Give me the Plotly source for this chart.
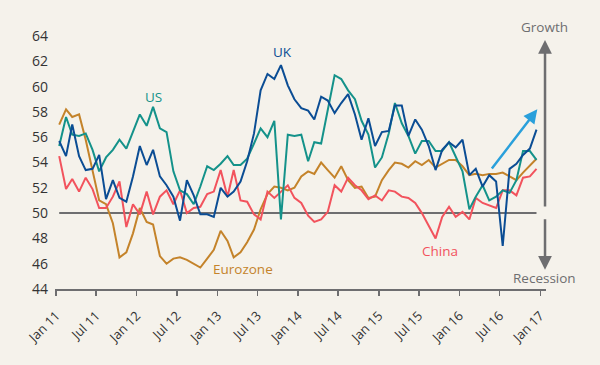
import pandas as pd
import plotly.graph_objects as go

# Monthly composite PMI readings, Jan 2011 - Dec 2016
months = pd.date_range("2011-01-01", periods=72, freq="MS")

uk = [55.7, 54.5, 57.0, 54.5, 53.4, 53.5, 54.6, 51.1, 52.6, 51.2, 50.9, 52.9,
      55.3, 53.8, 55.0, 52.9, 52.2, 51.3, 49.4, 52.6, 51.4, 49.9, 49.9, 49.7,
      52.0, 51.3, 51.7, 52.5, 54.1, 56.3, 59.7, 61.0, 60.6, 61.7, 60.1, 59.0,
      58.3, 58.1, 57.4, 59.2, 58.9, 57.9, 58.7, 59.4, 57.8, 55.8, 57.5, 55.3,
      56.4, 56.5, 58.5, 58.5, 56.1, 57.4, 56.6, 55.3, 53.4, 55.0, 55.6, 55.2,
      55.8, 53.0, 53.5, 52.1, 53.0, 52.5, 47.4, 53.5, 53.9, 54.6, 55.1, 56.6]

us = [55.3, 57.6, 56.2, 56.1, 56.3, 55.0, 53.3, 54.4, 55.0, 55.8, 55.1, 56.4,
      57.8, 56.9, 58.4, 56.7, 56.4, 53.3, 51.8, 51.5, 50.7, 52.1, 53.7, 53.4,
      53.9, 54.5, 53.8, 53.8, 54.3, 55.5, 56.7, 56.0, 57.3, 49.5, 56.2, 56.1,
      56.2, 54.1, 55.6, 55.5, 58.2, 60.9, 60.6, 59.7, 59.0, 57.3, 56.2, 53.6,
      54.4, 56.3, 58.7, 57.1, 56.1, 54.7, 55.7, 55.7, 54.9, 54.9, 55.6, 54.4,
      53.3, 50.3, 51.3, 52.2, 51.0, 51.3, 51.8, 51.6, 52.6, 54.9, 54.9, 54.2]

eurozone = [57.0, 58.2, 57.6, 57.8, 55.8, 53.4, 51.0, 50.7, 49.2, 46.5, 46.9, 48.4,
            50.4, 49.3, 49.1, 46.6, 46.0, 46.4, 46.5, 46.3, 46.0, 45.7, 46.4, 47.1,
            48.6, 47.8, 46.5, 46.9, 47.7, 48.7, 50.3, 51.5, 52.1, 52.0, 51.8, 52.0,
            52.9, 53.3, 53.1, 54.0, 53.4, 52.8, 53.7, 52.6, 52.0, 52.1, 51.2, 51.3,
            52.6, 53.4, 54.0, 53.9, 53.6, 54.1, 53.8, 54.2, 53.6, 53.9, 54.2, 54.2,
            53.7, 53.0, 53.1, 53.0, 53.1, 53.1, 53.2, 52.9, 52.6, 53.2, 53.8, 54.3]

china = [54.5, 51.9, 52.7, 51.7, 52.8, 51.9, 50.4, 50.4, 51.3, 52.5, 48.9, 50.7,
         49.9, 51.7, 49.9, 51.3, 51.8, 50.7, 51.8, 50.0, 50.4, 50.5, 51.5, 51.7,
         53.4, 51.3, 53.4, 51.0, 50.9, 49.9, 49.5, 51.7, 51.2, 51.7, 52.2, 51.2,
         50.8, 49.8, 49.3, 49.5, 50.1, 52.2, 51.7, 52.8, 52.2, 51.8, 51.1, 51.4,
         51.0, 51.8, 51.7, 51.3, 51.2, 50.8, 50.0, 49.0, 48.0, 49.7, 50.5, 49.7,
         50.1, 49.5, 51.2, 50.8, 50.6, 50.4, 51.8, 51.8, 51.4, 52.8, 52.9, 53.5]

y_ticks = [44, 46, 48, 50, 52, 54, 56, 58, 60, 62, 64]

COL_UK = "#0b4d94"
COL_US = "#14928a"
COL_EZ = "#c4832a"
COL_CN = "#f2535d"
GREY = "#6e6e70"
ARROW_BLUE = "#2aa0db"
BG = "#f5f2eb"
FONT = "Open Sans"

x = months + pd.Timedelta(days=14)

fig = go.Figure()
for name, vals, col in [("Eurozone", eurozone, COL_EZ), ("China", china, COL_CN),
                        ("US", us, COL_US), ("UK", uk, COL_UK)]:
    fig.add_trace(go.Scatter(x=x, y=vals, mode="lines", name=name,
                             line=dict(color=col, width=2), showlegend=False,
                             hoverinfo="skip"))

# 50 threshold line
fig.add_shape(type="line", xref="x", yref="y", x0=x[0], x1=x[-1], y0=50, y1=50,
              line=dict(color=GREY, width=2), layer="below")

ann = []
def label(text, px, py, col, size=13.5):
    ann.append(dict(text=text, x=px, y=py, xref="paper", yref="paper",
                    showarrow=False, font=dict(family=FONT, size=size, color=col),
                    xanchor="center", yanchor="middle"))

label("US", 0.2016, 0.760, COL_US)
label("UK", 0.463, 0.936, COL_UK)
label("Eurozone", 0.3835, 0.079, COL_EZ)
label("China", 0.784, 0.150, COL_CN)
label("Growth", 0.996, 1.034, GREY)
label("Recession", 0.9965, 0.045, GREY)

# Growth / recession arrows
ann.append(dict(x=0.998, y=0.984, xref="paper", yref="paper", ax=0, ay=168,
                axref="pixel", ayref="pixel", showarrow=True, arrowhead=2,
                arrowsize=1.1, arrowwidth=2.5, arrowcolor=GREY, text=""))
ann.append(dict(x=0.998, y=0.076, xref="paper", yref="paper", ax=0, ay=-52,
                axref="pixel", ayref="pixel", showarrow=True, arrowhead=2,
                arrowsize=1.1, arrowwidth=2.5, arrowcolor=GREY, text=""))
# Blue trend arrow
ann.append(dict(x=0.9823, y=0.710, xref="paper", yref="paper", ax=-46.6, ay=60.7,
                axref="pixel", ayref="pixel", showarrow=True, arrowhead=2,
                arrowsize=1.1, arrowwidth=2.5, arrowcolor=ARROW_BLUE, text=""))

fig.update_layout(
    width=600, height=365,
    margin=dict(l=55, r=54, t=36, b=76),
    paper_bgcolor=BG, plot_bgcolor=BG,
    font=dict(family=FONT, size=13, color="#333333"),
    annotations=ann,
)
fig.update_xaxes(type="date", range=["2010-12-27", "2017-01-27"],
                 tick0="2011-01-01", dtick="M6", tickformat="%b %y",
                 tickangle=-45, showgrid=False, zeroline=False,
                 showline=True, linecolor=GREY, linewidth=2,
                 ticks="outside", ticklen=5, tickwidth=1.5, tickcolor=GREY,
                 ticklabelstandoff=7,
                 tickfont=dict(family=FONT, size=13, color="#333333"))
fig.update_yaxes(range=[44, 64], tickvals=y_ticks, showgrid=False, zeroline=False,
                 showline=False, ticks="", ticklabelstandoff=6,
                 tickfont=dict(family=FONT, size=14, color="#333333"))

fig.write_html("out.html", config={"displayModeBar": False, "staticPlot": True})

# remove the default page margin so the figure sits at the window origin
with open("out.html", "r", encoding="utf-8") as f:
    html = f.read()
html = html.replace("<head>", "<head><style>html,body{margin:0;padding:0;background:%s;overflow:hidden;}</style>" % BG, 1)
with open("out.html", "w", encoding="utf-8") as f:
    f.write(html)
